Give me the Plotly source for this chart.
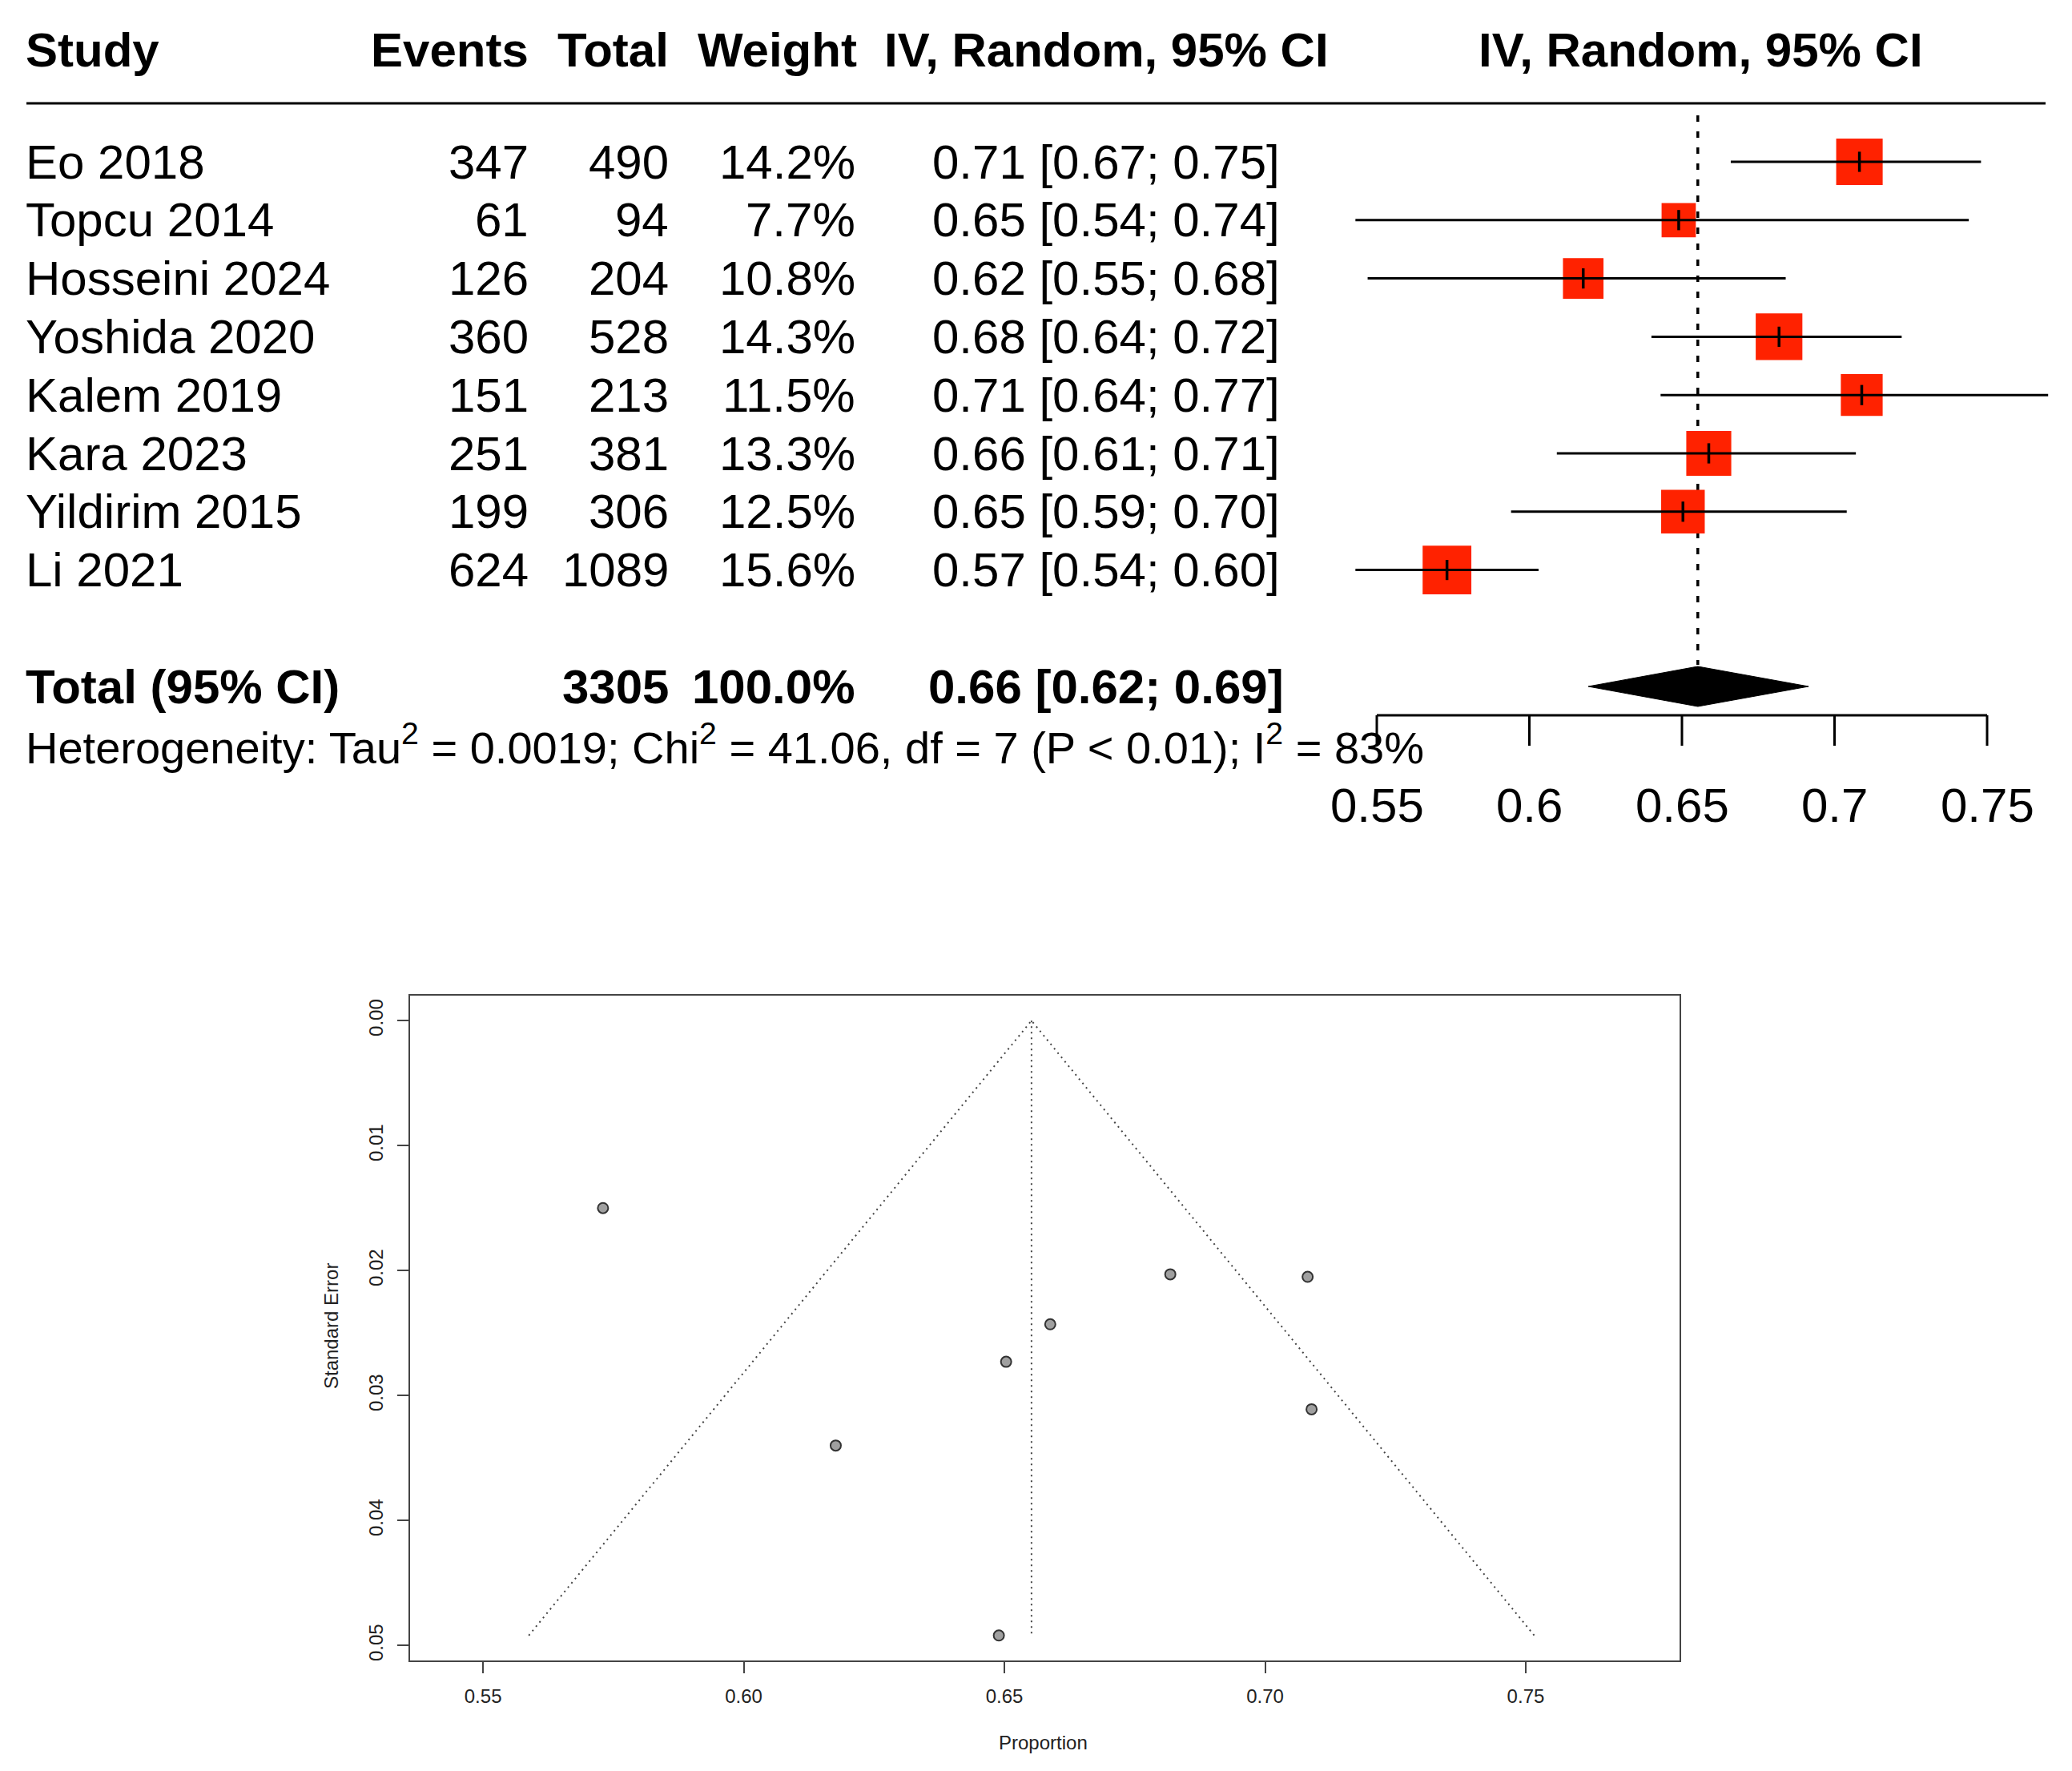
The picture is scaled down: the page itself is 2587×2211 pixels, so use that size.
import plotly.graph_objects as go

# ---- data ----
studies = ["Eo 2018", "Topcu 2014", "Hosseini 2024", "Yoshida 2020",
           "Kalem 2019", "Kara 2023", "Yildirim 2015", "Li 2021"]
events = [347, 61, 126, 360, 151, 251, 199, 624]
totals = [490, 94, 204, 528, 213, 381, 306, 1089]
weights = [14.2, 7.7, 10.8, 14.3, 11.5, 13.3, 12.5, 15.6]
ci_lower = [0.666, 0.543, 0.547, 0.640, 0.643, 0.609, 0.594, 0.543]
ci_upper = [0.748, 0.744, 0.684, 0.722, 0.770, 0.707, 0.704, 0.603]
std_err = [0.0205, 0.0492, 0.0340, 0.0203, 0.0311, 0.0243, 0.0273, 0.0150]

pooled = 0.6552
pooled_lower = 0.6193
pooled_upper = 0.6915
total_weight_label = "100.0%"
tau2, chi2, df, p_label, i2 = 0.0019, 41.06, 7, "P < 0.01", 83

forest_ticks = [0.55, 0.6, 0.65, 0.7, 0.75]
forest_ticktext = ["0.55", "0.6", "0.65", "0.7", "0.75"]
funnel_xticks = [0.55, 0.60, 0.65, 0.70, 0.75]
funnel_yticks = [0.00, 0.01, 0.02, 0.03, 0.04, 0.05]

props = [e / n for e, n in zip(events, totals)]

# ---- page geometry (pixels on the photographed page) ----
W, H = 2587, 2211
OFF = 8                          # body margin of the html page
FONT = "Liberation Sans, Arial, Helvetica, sans-serif"
ROW0, ROW_H = 202, 72.8          # first study row centre, row spacing
X055, PX_UNIT = 1719, 3810       # pixel of 0.55 on forest scale, px per unit


def fx(px):
    return (px - OFF) / W


def fy(py):
    return 1 - (py - OFF) / H


def row_of(py):
    return (py - ROW0) / ROW_H


def val_of(px):
    return 0.55 + (px - X055) / PX_UNIT


rows = list(range(len(studies)))
total_row = row_of(857)

fig = go.Figure()

# ---- forest plot marks ----
ci_x, ci_y = [], []
for lo, hi, r in zip(ci_lower, ci_upper, rows):
    ci_x += [lo, hi, None]
    ci_y += [r, r, None]

fig.add_trace(go.Scatter(
    x=[pooled, pooled], y=[row_of(144), row_of(830)],
    mode="lines", line=dict(color="black", width=3.5, dash="8px,12px"),
    hoverinfo="skip"))

fig.add_trace(go.Scatter(
    x=props, y=rows, mode="markers",
    marker=dict(symbol="square", color="#FF2200", opacity=1,
                size=[15.4 * w ** 0.5 for w in weights], line=dict(width=0)),
    hoverinfo="skip"))

fig.add_trace(go.Scatter(
    x=ci_x, y=ci_y, mode="lines", line=dict(color="black", width=3),
    hoverinfo="skip"))

fig.add_trace(go.Scatter(
    x=props, y=rows, mode="markers",
    marker=dict(symbol="line-ns-open", size=18, color="black",
                line=dict(color="black", width=3.5)),
    hoverinfo="skip"))

dh = 25 / ROW_H
fig.add_trace(go.Scatter(
    x=[pooled_lower, pooled, pooled_upper, pooled, pooled_lower],
    y=[total_row, total_row - dh, total_row, total_row + dh, total_row],
    mode="lines", fill="toself", fillcolor="black",
    line=dict(color="black", width=1), hoverinfo="skip"))

# ---- funnel plot ----
se_max = max(std_err)
fig.add_trace(go.Scatter(
    x=[pooled - 1.96 * se_max, pooled, pooled + 1.96 * se_max],
    y=[se_max, 0, se_max], xaxis="x2", yaxis="y2", mode="lines",
    line=dict(color="#444", width=2, dash="2px,5px"), hoverinfo="skip"))
fig.add_trace(go.Scatter(
    x=[pooled, pooled], y=[0, se_max], xaxis="x2", yaxis="y2", mode="lines",
    line=dict(color="#444", width=2, dash="2px,5px"), hoverinfo="skip"))
fig.add_trace(go.Scatter(
    x=props, y=std_err, xaxis="x2", yaxis="y2", mode="markers",
    marker=dict(symbol="circle", size=13, color="#A0A0A0", opacity=1,
                line=dict(color="#333", width=2)),
    hoverinfo="skip"))

# ---- table text ----
ann = []


def txt(text, px, r, anchor, size=60):
    ann.append(dict(text=text, x=fx(px), y=r, xref="paper", yref="y",
                    xanchor=anchor, yanchor="middle", showarrow=False,
                    font=dict(family=FONT, size=size, color="black")))


hdr = row_of(62)
txt("<b>Study</b>", 30, hdr, "left")
txt("<b>Events</b>", 662, hdr, "right")
txt("<b>Total</b>", 837, hdr, "right")
txt("<b>Weight</b>", 1072, hdr, "right")
txt("<b>IV, Random, 95% CI</b>", 1381, hdr, "center")
txt("<b>IV, Random, 95% CI</b>", 2123, hdr, "center")

for s, e, n, w, p, lo, hi, r in zip(studies, events, totals, weights,
                                   props, ci_lower, ci_upper, rows):
    txt(s, 30, r, "left")
    txt(str(e), 662, r, "right")
    txt(str(n), 837, r, "right")
    txt(f"{w:.1f}%", 1070, r, "right")
    txt(f"{p:.2f} [{lo:.2f}; {hi:.2f}]", 1381, r, "center")

txt("<b>Total (95% CI)</b>", 30, total_row, "left")
txt(f"<b>{sum(totals)}</b>", 837, total_row, "right")
txt(f"<b>{total_weight_label}</b>", 1070, total_row, "right")
txt(f"<b>{pooled:.2f} [{pooled_lower:.2f}; {pooled_upper:.2f}]</b>",
    1381, total_row, "center")
txt(f"Heterogeneity: Tau<sup>2</sup> = {tau2:.4f}; Chi<sup>2</sup> = {chi2:.2f}, "
    f"df = {df} ({p_label}); I<sup>2</sup> = {i2}%", 30, row_of(929), "left", 56)

# forest scale: line, ticks and labels on the forest x axis
axis_row = row_of(893)
shapes = [dict(type="line", xref="paper", yref="y", x0=fx(33), x1=fx(2554),
               y0=row_of(129), y1=row_of(129),
               line=dict(color="black", width=3)),
          dict(type="line", xref="x", yref="y",
               x0=forest_ticks[0], x1=forest_ticks[-1],
               y0=axis_row, y1=axis_row, line=dict(color="black", width=3))]
for t, lab in zip(forest_ticks, forest_ticktext):
    shapes.append(dict(type="line", xref="x", yref="y", x0=t, x1=t,
                       y0=axis_row, y1=row_of(931),
                       line=dict(color="black", width=3)))
    ann.append(dict(text=lab, x=t, y=row_of(1005), xref="x", yref="y",
                    xanchor="center", yanchor="middle", showarrow=False,
                    font=dict(family=FONT, size=60, color="black")))

# funnel axis titles
ann.append(dict(text="Proportion", x=fx(1303), y=fy(2175), xref="paper",
                yref="paper", xanchor="center", yanchor="middle",
                showarrow=False, font=dict(family=FONT, size=24, color="#222")))
ann.append(dict(text="Standard Error", x=fx(413), y=fy(1656), xref="paper",
                yref="paper", xanchor="center", yanchor="middle",
                showarrow=False, textangle=-90,
                font=dict(family=FONT, size=24, color="#222")))

hidden = dict(visible=False, showgrid=False, zeroline=False)

fig.update_layout(
    width=W, height=H,
    margin=dict(l=0, r=0, t=0, b=0),
    paper_bgcolor="white", plot_bgcolor="rgba(0,0,0,0)",
    showlegend=False,
    font=dict(family=FONT, color="black"),
    xaxis=dict(domain=[0, 1], range=[val_of(OFF), val_of(W + OFF)], **hidden),
    yaxis=dict(domain=[0, 1], range=[row_of(H + OFF), row_of(OFF)], **hidden),
    # funnel plot axes
    xaxis2=dict(domain=[fx(512), fx(2097)], range=[0.536, 0.7795],
                anchor="y2", showline=True, mirror=True, linecolor="#444",
                linewidth=2, ticks="outside", ticklen=14, tickwidth=2,
                tickcolor="#444", tickvals=funnel_xticks, tickformat=".2f",
                ticklabelstandoff=8,
                tickfont=dict(family=FONT, size=24, color="#222"),
                showgrid=False, zeroline=False),
    yaxis2=dict(domain=[fy(2073), fy(1243)], range=[0.0512, -0.002],
                anchor="x2", showline=True, mirror=True, linecolor="#444",
                linewidth=2, ticks="outside", ticklen=14, tickwidth=2,
                tickcolor="#444", tickvals=funnel_yticks, tickformat=".2f",
                tickangle=-90, ticklabelstandoff=8,
                tickfont=dict(family=FONT, size=24, color="#222"),
                showgrid=False, zeroline=False),
    annotations=ann,
    shapes=shapes,
)

fig.write_html("out.html")
